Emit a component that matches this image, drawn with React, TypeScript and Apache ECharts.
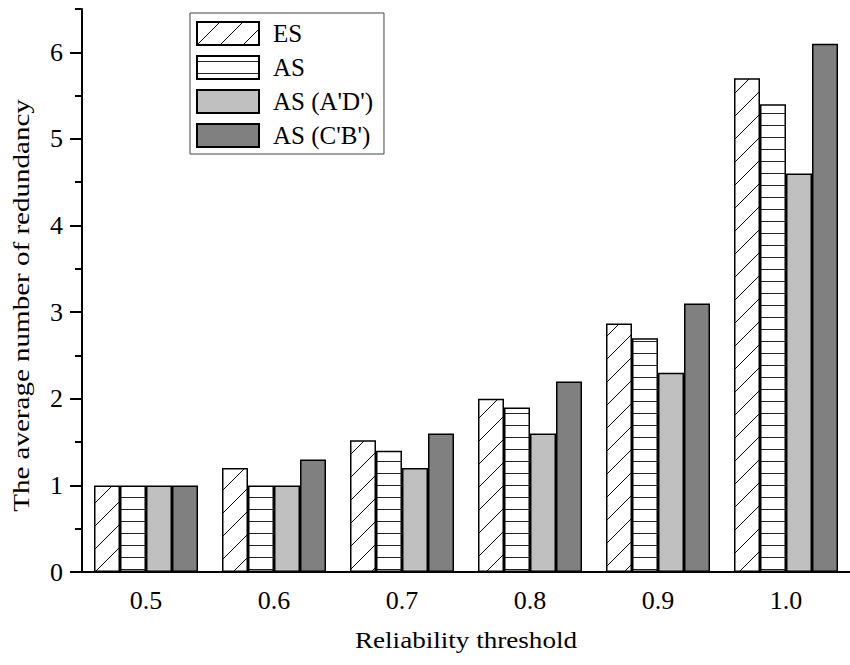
import React, { useEffect, useRef } from "react";
import * as echarts from "echarts";

const categories = ["0.5", "0.6", "0.7", "0.8", "0.9", "1.0"];
const seriesNames = ["ES", "AS", "AS (A'D')", "AS (C'B')"];
const esValues = [1.0, 1.2, 1.52, 2.0, 2.87, 5.7];
const asValues = [1.0, 1.0, 1.4, 1.9, 2.7, 5.4];
const asADValues = [1.0, 1.0, 1.2, 1.6, 2.3, 4.6];
const asCBValues = [1.0, 1.3, 1.6, 2.2, 3.1, 6.1];
const yTicks = [0, 1, 2, 3, 4, 5, 6];

const FONT = "Liberation Serif";

function makeDiagonal(): HTMLCanvasElement {
  const s = 23;
  const c = document.createElement("canvas");
  c.width = s;
  c.height = s;
  const ctx = c.getContext("2d")!;
  ctx.fillStyle = "#fff";
  ctx.fillRect(0, 0, s, s);
  ctx.strokeStyle = "#000";
  ctx.lineWidth = 1;
  for (let k = -1; k <= 1; k++) {
    ctx.beginPath();
    ctx.moveTo(k * s, s);
    ctx.lineTo(k * s + s, 0);
    ctx.stroke();
  }
  return c;
}

function makeHorizontal(): HTMLCanvasElement {
  const c = document.createElement("canvas");
  c.width = 4;
  c.height = 12;
  const ctx = c.getContext("2d")!;
  ctx.fillStyle = "#fff";
  ctx.fillRect(0, 0, 4, 12);
  ctx.fillStyle = "#222";
  ctx.fillRect(0, 5, 4, 1);
  return c;
}

export default function App() {
  const ref = useRef<HTMLDivElement>(null);
  useEffect(() => {
    if (!ref.current) return;
    const chart = echarts.init(ref.current, null, { renderer: "svg" });
    const gridLeft = 82;
    const gridBottomY = 572;
    const gridTop = 9;
    const yMax = 6.5;
    const pxPerUnit = (gridBottomY - gridTop) / yMax;
    const grid1Top = gridBottomY - 6 * pxPerUnit;

    const border = { borderColor: "#000", borderWidth: 1.5 };
    const fills: any[] = [
      { image: makeDiagonal(), repeat: "repeat" },
      { image: makeHorizontal(), repeat: "repeat" },
      "#c0c0c0",
      "#808080",
    ];
    const values = [esValues, asValues, asADValues, asCBValues];

    chart.setOption({
      animation: false,
      backgroundColor: "#fff",
      textStyle: { fontFamily: FONT },
      grid: [
        { left: gridLeft, top: gridTop, width: 772, bottom: 665 - gridBottomY },
        { left: gridLeft, top: grid1Top, width: 772, bottom: 665 - gridBottomY },
      ],
      legend: {
        orient: "vertical",
        left: 190,
        top: 13,
        padding: [8, 11, 6, 6],
        itemWidth: 62,
        itemHeight: 23,
        itemGap: 9,
        borderColor: "#444",
        borderWidth: 1,
        icon: "rect",
        data: seriesNames,
        textStyle: {
          fontFamily: FONT,
          fontSize: 25,
          color: "#000",
          padding: [0, 0, 0, 9],
        },
      },
      xAxis: [
        {
          type: "category",
          gridIndex: 0,
          data: categories,
          axisLine: { lineStyle: { color: "#000", width: 2 } },
          axisTick: { alignWithLabel: true, length: 12, lineStyle: { color: "#000", width: 2 } },
          axisLabel: { fontFamily: FONT, fontSize: 26, color: "#000", margin: 15 },
          splitLine: { show: false },
        },
        {
          type: "category",
          gridIndex: 1,
          data: categories,
          show: false,
        },
      ],
      yAxis: [
        {
          type: "value",
          gridIndex: 0,
          min: 0,
          max: yMax,
          interval: 0.5,
          axisLine: { show: true, lineStyle: { color: "#000", width: 2 } },
          axisTick: { show: true, length: 7, lineStyle: { color: "#000", width: 2 } },
          axisLabel: { show: false },
          splitLine: { show: false },
        },
        {
          type: "value",
          gridIndex: 1,
          min: yTicks[0],
          max: yTicks[yTicks.length - 1],
          interval: 1,
          axisLine: { show: false },
          axisTick: { show: true, length: 12, lineStyle: { color: "#000", width: 2 } },
          axisLabel: { fontFamily: FONT, fontSize: 26, color: "#000", margin: 19 },
          splitLine: { show: false },
        },
      ],
      graphic: [
        {
          type: "text",
          x: 466,
          y: 640,
          scaleX: 1.13,
          style: {
            text: "Reliability threshold",
            fontFamily: FONT,
            fontSize: 24,
            fill: "#000",
            align: "center",
            verticalAlign: "middle",
          },
        },
        {
          type: "text",
          x: 21,
          y: 305.5,
          rotation: Math.PI / 2,
          scaleX: 1.21,
          style: {
            text: "The average number of redundancy",
            fontFamily: FONT,
            fontSize: 24,
            fill: "#000",
            align: "center",
            verticalAlign: "middle",
          },
        },
      ],
      series: seriesNames.map((name, i) => ({
        name,
        type: "bar",
        xAxisIndex: 0,
        yAxisIndex: 0,
        data: values[i],
        barWidth: 26,
        barGap: "0%",
        itemStyle: { color: fills[i], ...border },
        emphasis: { disabled: true },
      })),
    });
    return () => chart.dispose();
  }, []);
  return (
    <div
      ref={ref}
      style={{ position: "absolute", left: 0, top: 0, width: 850, height: 665 }}
    />
  );
}
